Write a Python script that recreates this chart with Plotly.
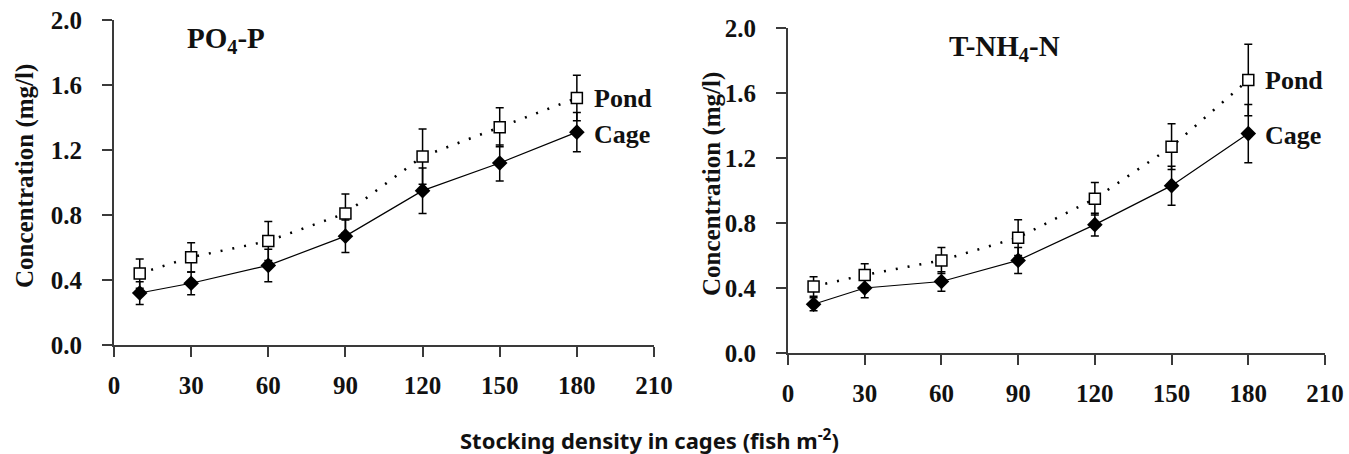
import plotly.graph_objects as go

# ---- data ----
density = [10, 30, 60, 90, 120, 150, 180]

po4_pond = [0.44, 0.54, 0.64, 0.81, 1.16, 1.34, 1.52]
po4_pond_err = [0.09, 0.09, 0.12, 0.12, 0.17, 0.12, 0.14]
po4_cage = [0.32, 0.38, 0.49, 0.67, 0.95, 1.12, 1.31]
po4_cage_err = [0.07, 0.07, 0.10, 0.10, 0.14, 0.11, 0.12]

nh4_pond = [0.41, 0.48, 0.57, 0.71, 0.95, 1.27, 1.68]
nh4_pond_err = [0.06, 0.07, 0.08, 0.11, 0.10, 0.14, 0.22]
nh4_cage = [0.30, 0.40, 0.44, 0.57, 0.79, 1.03, 1.35]
nh4_cage_err = [0.04, 0.06, 0.06, 0.08, 0.07, 0.12, 0.18]

x_ticks = [0, 30, 60, 90, 120, 150, 180, 210]
y_ticks = [0.0, 0.4, 0.8, 1.2, 1.6, 2.0]

panel_titles = ["PO<sub>4</sub>-P", "T-NH<sub>4</sub>-N"]
y_title = "Concentration (mg/l)"
x_title = "Stocking density in cages (fish m<sup>-2</sup>)"
series_names = ["Pond", "Cage"]

# ---- layout helpers (body margin removed via post_script) ----
W, H = 1349, 454
def px(x):
    return x / W
def py(y):
    return 1 - y / H

SERIF = "Liberation Serif"
INK = "#111111"
AXC = "#3a3a3a"

fig = go.Figure()

panels = [
    (po4_pond, po4_pond_err, po4_cage, po4_cage_err, "x", "y"),
    (nh4_pond, nh4_pond_err, nh4_cage, nh4_cage_err, "x2", "y2"),
]

for pond, pond_err, cage, cage_err, xa, ya in panels:
    fig.add_trace(go.Scatter(
        x=density, y=cage, xaxis=xa, yaxis=ya, name=series_names[1],
        mode="lines+markers",
        line=dict(color="black", width=1.2),
        marker=dict(symbol="diamond", size=12, color="black"),
        error_y=dict(type="data", array=cage_err, visible=True,
                     color="black", thickness=1.5, width=4),
        showlegend=False,
    ))
    fig.add_trace(go.Scatter(
        x=density, y=pond, xaxis=xa, yaxis=ya, name=series_names[0],
        mode="lines+markers",
        line=dict(color="black", width=2.5, dash="2px,10px"),
        marker=dict(symbol="square", size=11, color="white",
                    line=dict(color="black", width=1.5)),
        error_y=dict(type="data", array=pond_err, visible=True,
                     color="black", thickness=1.5, width=4),
        showlegend=False,
    ))

axis_common = dict(
    showgrid=False, zeroline=False, showline=True, linecolor=AXC, linewidth=2,
    ticks="outside", ticklen=10, tickwidth=2, tickcolor=AXC, automargin=False,
    ticklabeloverflow="allow",
    tickfont=dict(family=SERIF, size=25, color=INK, weight="bold"),
)

fig.update_layout(
    template="none",
    width=W, height=H,
    margin=dict(l=0, r=0, t=0, b=0),
    paper_bgcolor="white", plot_bgcolor="white",
    font=dict(family=SERIF, color=INK),
    xaxis=dict(domain=[px(114), px(654)], range=[0, 210], tickvals=x_ticks,
               anchor="y", ticklabelstandoff=7, **axis_common),
    yaxis=dict(domain=[py(345), py(20)], range=[0, 2.0], tickvals=y_ticks,
               tickformat=".1f", anchor="x", ticklabelstandoff=15, **axis_common),
    xaxis2=dict(domain=[px(788), px(1325)], range=[0, 210], tickvals=x_ticks,
                anchor="y2", ticklabelstandoff=7, **axis_common),
    yaxis2=dict(domain=[py(353), py(28)], range=[0, 2.0], tickvals=y_ticks,
                tickformat=".1f", anchor="x2", ticklabelstandoff=15, **axis_common),
)

ann = []
# panel titles
ann.append(dict(text=panel_titles[0], x=px(226), y=py(40), xref="paper", yref="paper",
                xanchor="center", yanchor="middle", showarrow=False,
                font=dict(family=SERIF, size=29, color=INK, weight="bold")))
ann.append(dict(text=panel_titles[1], x=px(1004), y=py(48), xref="paper", yref="paper",
                xanchor="center", yanchor="middle", showarrow=False,
                font=dict(family=SERIF, size=29, color=INK, weight="bold")))
# y titles
for xc, yc in [(25, 176), (712, 184)]:
    ann.append(dict(text=y_title, x=px(xc), y=py(yc), xref="paper", yref="paper",
                    xanchor="center", yanchor="middle",
                    textangle=-90, showarrow=False,
                    font=dict(family=SERIF, size=25, color=INK, weight="bold")))
# series labels
for (pond, cage, xr, yr) in [(po4_pond, po4_cage, "x", "y"), (nh4_pond, nh4_cage, "x2", "y2")]:
    ann.append(dict(text=series_names[0], x=density[-1], y=pond[-1], xref=xr, yref=yr,
                    xanchor="left", yanchor="middle", xshift=15, showarrow=False,
                    font=dict(family=SERIF, size=26, color=INK, weight="bold")))
    ann.append(dict(text=series_names[1], x=density[-1], y=cage[-1], xref=xr, yref=yr,
                    xanchor="left", yanchor="middle", xshift=15, yshift=-2, showarrow=False,
                    font=dict(family=SERIF, size=26, color=INK, weight="bold")))
# shared x title
ann.append(dict(text=x_title, x=px(649), y=py(439), xref="paper", yref="paper",
                xanchor="center", yanchor="middle", showarrow=False,
                font=dict(family="Noto Sans", size=22, color=INK, weight="bold")))

fig.update_layout(annotations=ann)

fig.write_html(
    "out.html",
    config={"displayModeBar": False},
    post_script="document.body.style.margin='0';document.body.style.overflow='hidden';",
)
